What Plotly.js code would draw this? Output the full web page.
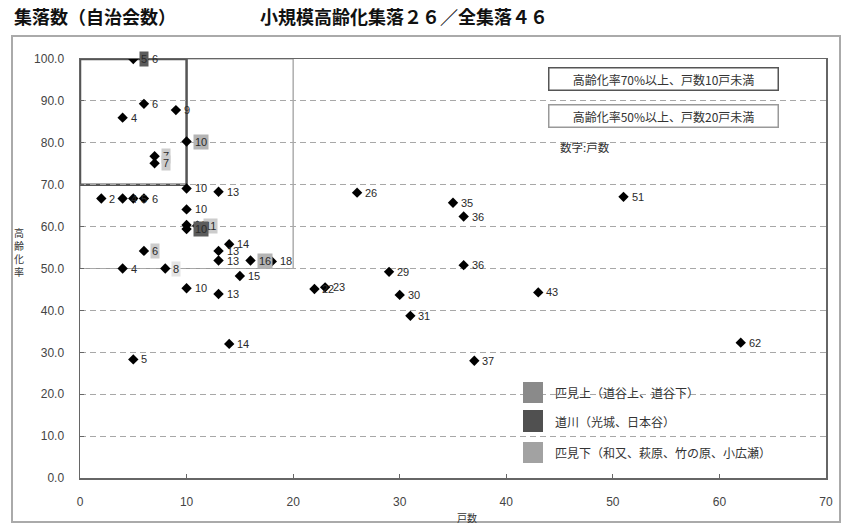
<!DOCTYPE html>
<html>
<head>
<meta charset="utf-8">
<script src="https://cdn.plot.ly/plotly-3.0.1.min.js"></script>
<style>
html,body{margin:0;padding:0;background:#fff;}
#chart{width:846px;height:528px;}
</style>
</head>
<body>
<div id="chart"></div>
<script>
// ---- data ----
// households (戸数) per settlement
const households = [2, 4, 5, 6, 6, 4, 9, 10, 7, 7, 10, 13, 10, 10, 11, 10, 6, 4, 8, 10,
                    13, 13, 14, 18, 16, 15, 13, 14, 5, 26, 35, 36, 36, 29, 22, 23, 30, 31, 37, 51, 43, 62, 6, 5];
// aging rate (高齢化率, %)
const agingRate = [66.7, 66.7, 66.7, 66.7, 89.3, 86.0, 87.8, 80.3, 76.8, 75.1, 69.1, 68.3, 64.1, 60.4, 60.2, 59.4, 54.2, 50.0, 50.0, 45.3,
                   54.2, 51.9, 55.8, 51.7, 51.9, 48.2, 43.9, 32.0, 28.3, 68.1, 65.7, 62.4, 50.8, 49.2, 45.1, 45.5, 43.7, 38.7, 28.0, 67.1, 44.3, 32.3, 100.0, 100.0];
// district of highlighted labels ('' = not highlighted)
const district = ['', '', '', '', '', '', '', 'kami', 'shimo', 'shimo', '', '', '', '', 'shimo', 'michi', 'shimo', '', 'shimo2', '',
                  '', '', '', '', 'kami', '', '', '', '', '', '', '', '', '', '', '', '', '', '', '', '', '', '', 'michi'];

// thresholds of the two highlighted zones
const zoneRate = [70, 50];
const zoneHouses = [10, 20];
const zoneLabels = ['高齢化率70%以上、戸数10戸未満', '高齢化率50%以上、戸数20戸未満'];
const noteLabel = '数字:戸数';

const legendLabels = ['匹見上（道谷上、道谷下）', '道川（光城、日本谷）', '匹見下（和又、萩原、竹の原、小広瀬）'];

const titleLeft = '集落数（自治会数）';
const titleMain = '小規模高齢化集落２６／全集落４６';
const xTitle = '戸数';
const yTitle = '高齢化率';

// ---- styling ----
const JP = '"Noto Sans CJK JP", "Noto Sans", sans-serif';
const NUM = '"Liberation Sans", Arial, sans-serif';
const legendColors = ['#8a8a8a', '#505050', '#a2a2a2'];
const labelBg = {kami: '#b4b4b4', michi: '#5c5c5c', shimo: '#cccccc', shimo2: '#e4e4e4'};

// plot area in pixels: left 80, right 826, top 59, bottom 478
const L = 80, R = 826, T = 59, B = 478;
const px = v => (v - L) / (R - L);
const py = v => (B - v) / (B - T);

const trace = {
  x: households,
  y: agingRate,
  type: 'scatter',
  mode: 'markers',
  marker: {symbol: 'diamond', size: 8, color: '#000'},
  hoverinfo: 'x+y',
  showlegend: false
};

const annotations = [];
households.forEach((h, i) => {
  const d = district[i];
  const a = {
    x: h, y: agingRate[i], xref: 'x', yref: 'y',
    text: String(h), showarrow: false, xanchor: 'left', yanchor: 'middle',
    xshift: 6,
    font: {family: NUM, size: 11, color: '#2a2a2a'}
  };
  if (d) { a.bgcolor = labelBg[d]; a.borderpad = 1; }
  annotations.push(a);
});

// titles
annotations.push({text: '<b>' + titleLeft + '</b>', xref: 'paper', yref: 'paper', x: px(12), y: py(16),
  xanchor: 'left', yanchor: 'middle', showarrow: false, font: {family: JP, size: 18, color: '#111'}});
annotations.push({text: '<b>' + titleMain + '</b>', xref: 'paper', yref: 'paper', x: px(258), y: py(16),
  xanchor: 'left', yanchor: 'middle', showarrow: false, font: {family: JP, size: 18, color: '#111'}});
annotations.push({text: yTitle.split('').join('<br>'), xref: 'paper', yref: 'paper', x: px(19), y: py(252),
  xanchor: 'center', yanchor: 'middle', showarrow: false, font: {family: JP, size: 10, color: '#333'}});
annotations.push({text: xTitle, xref: 'paper', yref: 'paper', x: px(467), y: py(517),
  xanchor: 'center', yanchor: 'middle', showarrow: false, font: {family: JP, size: 10, color: '#333'}});

// zone boxes notes
const zoneBoxY = [79, 116];
zoneLabels.forEach((t, i) => {
  annotations.push({text: t, xref: 'paper', yref: 'paper', x: px(663), y: py(zoneBoxY[i]),
    xanchor: 'center', yanchor: 'middle', showarrow: false, width: 224, height: 17,
    bgcolor: '#fff', bordercolor: i === 0 ? '#555' : '#999', borderwidth: 1.5, borderpad: 2,
    font: {family: JP, size: 12, color: '#333'}});
});
annotations.push({text: noteLabel, xref: 'paper', yref: 'paper', x: px(558), y: py(147),
  xanchor: 'left', yanchor: 'middle', showarrow: false, font: {family: JP, size: 11.5, color: '#333'}});

// legend
const legY = [[382, 403], [410, 432], [442, 463]];
const shapes = [];
legendLabels.forEach((t, i) => {
  shapes.push({type: 'rect', xref: 'paper', yref: 'paper', x0: px(523), x1: px(543),
    y0: py(legY[i][1]), y1: py(legY[i][0]), fillcolor: legendColors[i], line: {width: 0}});
  annotations.push({text: t, xref: 'paper', yref: 'paper', x: px(553), y: py((legY[i][0] + legY[i][1]) / 2),
    xanchor: 'left', yanchor: 'middle', showarrow: false, font: {family: JP, size: 12, color: '#333'}});
});

// zone rectangles (wide first, narrow on top)
shapes.push({type: 'rect', xref: 'x', yref: 'y', x0: 0, x1: zoneHouses[1], y0: zoneRate[1], y1: 100,
  line: {color: '#999', width: 1.2}, layer: 'below'});
shapes.push({type: 'rect', xref: 'x', yref: 'y', x0: 0, x1: zoneHouses[0], y0: zoneRate[0], y1: 100,
  line: {color: '#555', width: 2.5}, layer: 'below'});

// outer frame
shapes.push({type: 'rect', xref: 'paper', yref: 'paper', x0: px(12), x1: px(840), y0: py(522), y1: py(36),
  line: {color: '#aaa', width: 2}, layer: 'below'});

const layout = {
  width: 846, height: 528,
  margin: {l: L, r: 846 - R, t: T, b: 528 - B},
  paper_bgcolor: '#fff', plot_bgcolor: '#fff',
  showlegend: false,
  xaxis: {
    range: [0, 70], dtick: 10, tick0: 0, showgrid: false, zeroline: false,
    showline: true, linecolor: '#666', linewidth: 1.5, mirror: true,
    ticks: 'inside', ticklen: 4, tickcolor: '#666', ticklabelstandoff: 12,
    tickfont: {family: NUM, size: 12, color: '#444'}
  },
  yaxis: {
    range: [0, 100], dtick: 10, tick0: 0, tickformat: '.1f',
    showgrid: true, gridcolor: '#a8a8a8', gridwidth: 1, griddash: '6px,4px', zeroline: false,
    showline: true, linecolor: '#666', linewidth: 1.5, mirror: true,
    ticks: 'inside', ticklen: 4, tickcolor: '#666', ticklabelstandoff: 12,
    tickfont: {family: NUM, size: 12, color: '#444'}
  },
  shapes: shapes,
  annotations: annotations
};

Plotly.newPlot('chart', [trace], layout, {displayModeBar: false, staticPlot: true});
</script>
</body>
</html>
